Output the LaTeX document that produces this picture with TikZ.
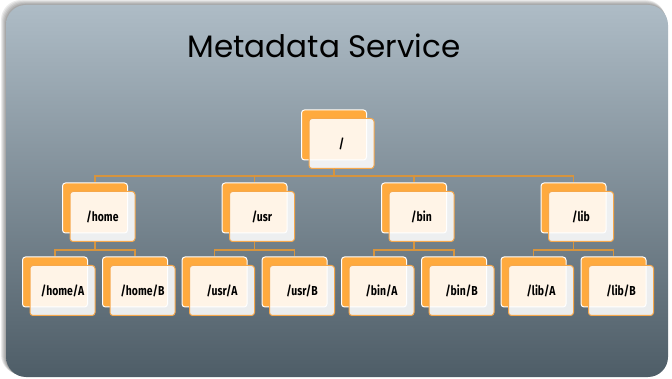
\documentclass[tikz,border=0pt]{standalone}
\usepackage{fontspec}
\setmainfont{Poppins}
\newfontfamily\dirfont[FakeStretch=0.8]{Fira Sans}
\usetikzlibrary{calc}

\definecolor{boxorange}{RGB}{255,170,62}
\definecolor{edgeorange}{RGB}{246,168,76}
\definecolor{wireorange}{RGB}{214,148,62}
\definecolor{paneltop}{RGB}{174,188,198}
\definecolor{panelbot}{RGB}{78,93,103}

\tikzset{
  backbox/.style={draw=white, line width=1pt, fill=boxorange, rounded corners=3pt,
    minimum width=65pt, minimum height=50pt, inner sep=0pt},
  frontbox/.style={draw=edgeorange, line width=1pt, fill=white, fill opacity=0.88,
    text opacity=1, rounded corners=3pt, minimum width=65pt, minimum height=50pt,
    inner sep=0pt, font=\dirfont\bfseries\fontsize{13}{15}\selectfont},
  wire/.style={draw=wireorange, line width=1.1pt}
}

% \dirbox{name}{x}{y}{label}: orange card behind, pale card in front
\newcommand{\dirbox}[4]{
  \node[backbox] (#1-back) at (#2, #3) {};
  \node[frontbox] (#1) at ($(#1-back)+(7.5,8.5)$) {#4};
}

\begin{document}
\begin{tikzpicture}[x=1pt, y=-1pt]
			%%%%% START %%%%%
			\useasboundingbox (0, 0) rectangle (672, 379);
			\fill[white] (0, 0) rectangle (672, 379);
			
			% panel shadow
			\foreach \s in {1,...,5}
				\fill[black, opacity=0.08, rounded corners=20pt] (6-\s, 5-\s) rectangle (668-0.5*\s, 377-0.5*\s);
			\shade[top color=paneltop, bottom color=panelbot, rounded corners=20pt] (6, 5) rectangle (668, 377);
			
			\node (title) at (324, 46) {\fontsize{31}{37}\selectfont Metadata Service};
			
			\coordinate (bus1) at (0, 176);
			\coordinate (bus2) at (0, 250);
			
			% root
			\dirbox{root}{334}{135}{/}
			
			% top level directories
			\dirbox{home}{95}{208}{/home}
			\dirbox{usr}{254.5}{208}{/usr}
			\dirbox{bin}{414}{208}{/bin}
			\dirbox{lib}{573.5}{208}{/lib}
			
			% second level
			\dirbox{homeA}{55}{282}{/home/A}
			\dirbox{homeB}{135}{282}{/home/B}
			\dirbox{usrA}{214.5}{282}{/usr/A}
			\dirbox{usrB}{294.5}{282}{/usr/B}
			\dirbox{binA}{374}{282}{/bin/A}
			\dirbox{binB}{454}{282}{/bin/B}
			\dirbox{libA}{533.5}{282}{/lib/A}
			\dirbox{libB}{613.5}{282}{/lib/B}
			
			\foreach \d in {home,usr,bin,lib}
				\draw[wire] (root-back |- root.south) -- (root-back |- bus1) -| (\d-back.north);
			
			\foreach \d in {home,usr,bin,lib} {
				\draw[wire] (\d-back |- \d.south) -- (\d-back |- bus2) -| (\d A-back.north);
				\draw[wire] (\d-back |- bus2) -| (\d B-back.north);
			}
			
			%%%%% END %%%%%
		\end{tikzpicture}
\end{document}
